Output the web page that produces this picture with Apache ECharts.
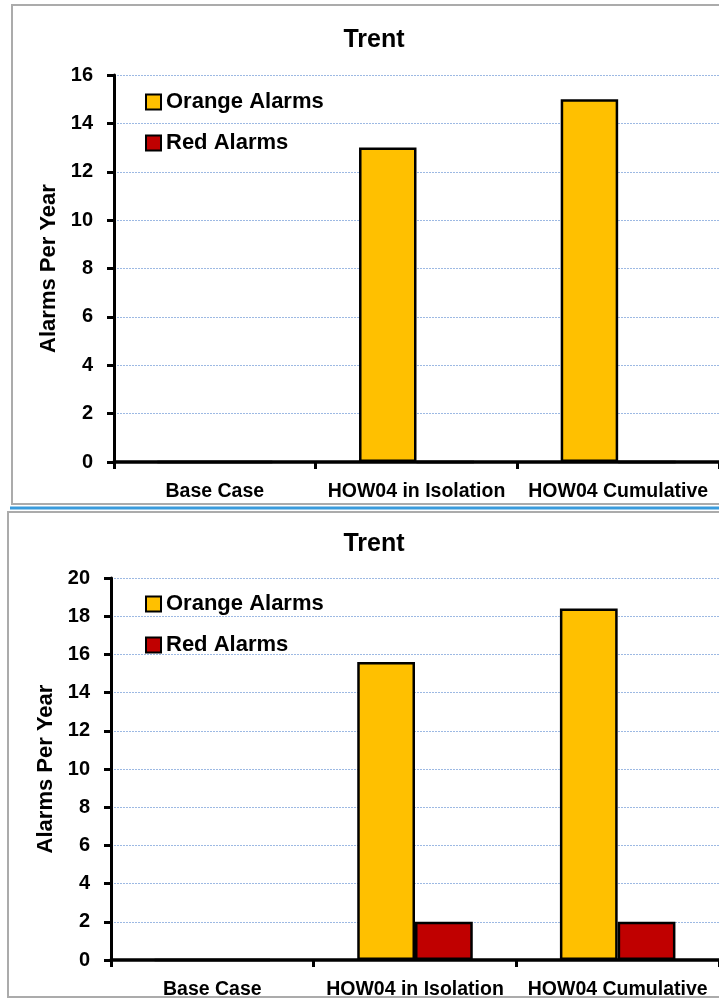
<!DOCTYPE html>
<html>
<head>
<meta charset="utf-8">
<script src="https://cdn.jsdelivr.net/npm/echarts@6/dist/echarts.min.js"></script>
<style>
html,body{margin:0;padding:0;background:#fff;}
#c{width:719px;height:1000px;}
</style>
</head>
<body>
<div id="c"></div>
<script>
var categories = ['Base Case', 'HOW04 in Isolation', 'HOW04 Cumulative'];
var seriesNames = ['Orange Alarms', 'Red Alarms'];
var chartTitle = 'Trent';
var yAxisTitle = 'Alarms Per Year';
var topOrange = [0, 13, 15];
var topRed = [0, 0, 0];
var bottomOrange = [0, 15.6, 18.4];
var bottomRed = [0, 2, 2];
var topYMax = 16;
var bottomYMax = 20;
var yStep = 2;

var FONT = '"Liberation Sans", Arial, sans-serif';
var ORANGE = '#FFC000';
var RED = '#C00000';

var chart = echarts.init(document.getElementById('c'), null, {renderer: 'canvas'});

function xAxis(gi) {
  return {
    type: 'category', gridIndex: gi, data: categories,
    axisLine: {lineStyle: {color: '#000', width: 3.5}},
    axisTick: {show: true, length: 7, lineStyle: {color: '#000', width: 3}},
    axisLabel: {color: '#000', fontFamily: FONT, fontWeight: 'bold', fontSize: 19.5, margin: 20, interval: 0, hideOverlap: false}
  };
}
function yAxis(gi, max) {
  return {
    type: 'value', gridIndex: gi, min: 0, max: max, interval: yStep,
    name: yAxisTitle, nameLocation: 'middle', nameGap: 53,
    nameTextStyle: {color: '#000', fontFamily: FONT, fontWeight: 'bold', fontSize: 22},
    axisLine: {show: true, lineStyle: {color: '#000', width: 3}},
    axisTick: {show: true, length: 7, lineStyle: {color: '#000', width: 3}},
    axisLabel: {color: '#000', fontFamily: FONT, fontWeight: 'bold', fontSize: 20, margin: 21},
    splitLine: {show: true, lineStyle: {color: '#9DB9E3', width: 1, type: [2, 1]}}
  };
}
function bar(name, data, color, gi) {
  return {
    type: 'bar', name: name, data: data, xAxisIndex: gi, yAxisIndex: gi,
    barGap: '0%', barCategoryGap: '43%',
    itemStyle: {color: color, borderColor: '#000', borderWidth: 2.5},
    emphasis: {disabled: true}
  };
}
function legend(top) {
  return {
    orient: 'vertical', left: 140, top: top, itemWidth: 15, itemHeight: 15, itemGap: 19,
    icon: 'rect',
    textStyle: {color: '#000', fontFamily: FONT, fontWeight: 'bold', fontSize: 22},
    data: seriesNames
  };
}

chart.setOption({
  animation: false,
  backgroundColor: '#fff',
  title: [
    {text: chartTitle, left: 369, top: 23, textAlign: 'center',
     textStyle: {fontFamily: FONT, fontWeight: 'bold', fontSize: 25, color: '#000'}},
    {text: chartTitle, left: 369, top: 527, textAlign: 'center',
     textStyle: {fontFamily: FONT, fontWeight: 'bold', fontSize: 25, color: '#000'}}
  ],
  legend: [legend(86), legend(588)],
  grid: [
    {left: 114, top: 75, right: 0, height: 387, containLabel: false},
    {left: 111, top: 578, right: 0, height: 382, containLabel: false}
  ],
  xAxis: [xAxis(0), xAxis(1)],
  yAxis: [yAxis(0, topYMax), yAxis(1, bottomYMax)],
  series: [
    bar(seriesNames[0], topOrange, ORANGE, 0),
    bar(seriesNames[1], topRed, RED, 0),
    bar(seriesNames[0], bottomOrange, ORANGE, 1),
    bar(seriesNames[1], bottomRed, RED, 1)
  ],
  graphic: [
    {type: 'rect', shape: {x: 12, y: 5, width: 720, height: 499}, style: {fill: null, stroke: '#ABABAB', lineWidth: 2}, silent: true, z: -1},
    {type: 'line', shape: {x1: 10, y1: 508, x2: 719, y2: 508}, style: {stroke: '#3A9BDC', lineWidth: 3}, silent: true},
    {type: 'rect', shape: {x: 8, y: 512, width: 724, height: 485}, style: {fill: null, stroke: '#ABABAB', lineWidth: 2}, silent: true, z: -1}
  ]
});
</script>
</body>
</html>
